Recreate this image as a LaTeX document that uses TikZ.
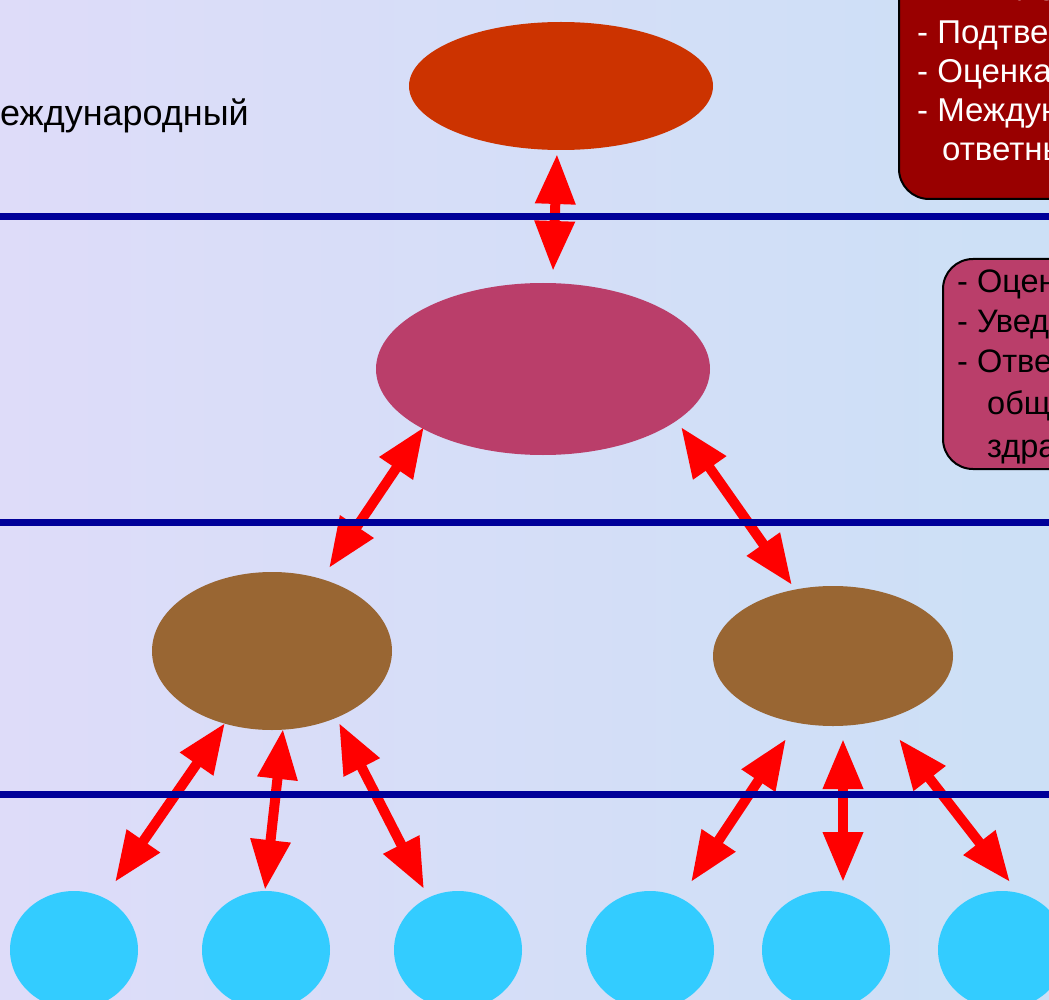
\documentclass[tikz,border=0pt]{standalone}
\usepackage{fontspec}
\setmainfont{Liberation Sans}
\usetikzlibrary{arrows.meta,shapes.geometric}
\definecolor{bgA}{RGB}{222,220,249}
\definecolor{bgB}{RGB}{204,224,246}
\definecolor{topc}{RGB}{204,51,0}
\definecolor{pinkc}{RGB}{186,62,106}
\definecolor{brownc}{RGB}{153,102,51}
\definecolor{cyanc}{RGB}{51,204,255}
\definecolor{navyc}{RGB}{0,0,153}
\definecolor{redc}{RGB}{255,0,0}
\definecolor{darkredc}{RGB}{153,0,0}
\tikzset{
  ell/.style={ellipse,inner sep=0pt,outer sep=0pt},
  arr/.style={draw=redc,line width=10pt,
    {Triangle[length=50pt,width=38pt]}-{Triangle[length=50pt,width=38pt]}},
  level/.style={draw=navyc,line width=7pt},
  infobox/.style={draw=black,line width=2pt,rounded corners=30pt,anchor=north west,inner sep=0pt},
  boxtext/.style={anchor=base west,inner sep=0pt,font=\fontsize{33pt}{39pt}\selectfont},
  boxtextb/.style={anchor=base west,inner sep=0pt,font=\fontsize{32.5pt}{39pt}\selectfont},
}
\begin{document}
\begin{tikzpicture}[x=1pt,y=-1pt]
\useasboundingbox (0,0) rectangle (1049,1000);
\clip (0,0) rectangle (1049,1000);
\shade[left color=bgA,right color=bgB] (0,0) rectangle (1049,1000);

% ellipses
\node[ell,fill=topc,minimum width=304pt,minimum height=128pt] (top) at (561,86) {};
\node[ell,fill=pinkc,minimum width=334pt,minimum height=172pt] (pink) at (543,369) {};
\node[ell,fill=brownc,minimum width=240pt,minimum height=158pt] (bl) at (272,651) {};
\node[ell,fill=brownc,minimum width=240pt,minimum height=140pt] (br) at (833,656) {};
\node[ell,fill=cyanc,minimum width=128pt,minimum height=118pt] (c1) at (74,950) {};
\node[ell,fill=cyanc,minimum width=128pt,minimum height=118pt] (c2) at (266,950) {};
\node[ell,fill=cyanc,minimum width=128pt,minimum height=118pt] (c3) at (458,950) {};
\node[ell,fill=cyanc,minimum width=128pt,minimum height=118pt] (c4) at (650,950) {};
\node[ell,fill=cyanc,minimum width=128pt,minimum height=118pt] (c5) at (826,950) {};
\node[ell,fill=cyanc,minimum width=128pt,minimum height=118pt] (c6) at (1002,950) {};

% arrows
\draw[arr] ([shift={(-4,68)}]top.center) -- ([shift={(10,-98)}]pink.center);
\draw[arr] ([shift={(-119,58)}]pink.center) -- ([shift={(57,-83)}]bl.center);
\draw[arr] ([shift={(138,58)}]pink.center) -- ([shift={(-41,-71)}]br.center);
\draw[arr] ([shift={(-47,72)}]bl.center) -- ([shift={(41,-68)}]c1.center);
\draw[arr] ([shift={(11,78)}]bl.center) -- ([shift={(-1,-60)}]c2.center);
\draw[arr] ([shift={(67,72)}]bl.center) -- ([shift={(-34,-61)}]c3.center);
\draw[arr] ([shift={(-47,83)}]br.center) -- ([shift={(41,-68)}]c4.center);
\draw[arr] ([shift={(10,83)}]br.center) -- ([shift={(17,-68)}]c5.center);
\draw[arr] ([shift={(66,83)}]br.center) -- ([shift={(8,-68)}]c6.center);

% level lines
\coordinate (l1a) at (0,217); \coordinate (l1b) at (1049,217);
\coordinate (l2a) at (0,522); \coordinate (l2b) at (1049,522);
\coordinate (l3a) at (0,794); \coordinate (l3b) at (1049,794);
\draw[level] (l1a) -- (l1b);
\draw[level] (l2a) -- (l2b);
\draw[level] (l3a) -- (l3b);

% left label
\node[anchor=base east,inner sep=0pt,font=\fontsize{36pt}{42pt}\selectfont] (lbl) at (249,126) {Международный};

% top-right box
\node[infobox,fill=darkredc,minimum width=260pt,minimum height=258pt] (tbox) at (898,-60) {};
\node[boxtext,text=white] (t0) at (917,1) {- Выявление};
\node[boxtext,text=white] (t1) at (917,44) {- Подтверждение};
\node[boxtext,text=white] (t2) at (917,83) {- Оценка риска};
\node[boxtext,text=white] (t3) at (917,122) {- Международные};
\node[boxtext,text=white] (t4) at (942,161) {ответные меры};

% middle-right box
\node[infobox,fill=pinkc,minimum width=200pt,minimum height=210pt] (mbox) at (942,258) {};
\node[boxtextb] (m1) at (957,292) {- Оценка};
\node[boxtextb] (m2) at (957,332) {- Уведомление};
\node[boxtextb] (m3) at (957,372) {- Ответные меры};
\node[boxtextb] (m4) at (987,414) {общественного};
\node[boxtextb] (m5) at (987,457) {здравоохранения};
\end{tikzpicture}
\end{document}
